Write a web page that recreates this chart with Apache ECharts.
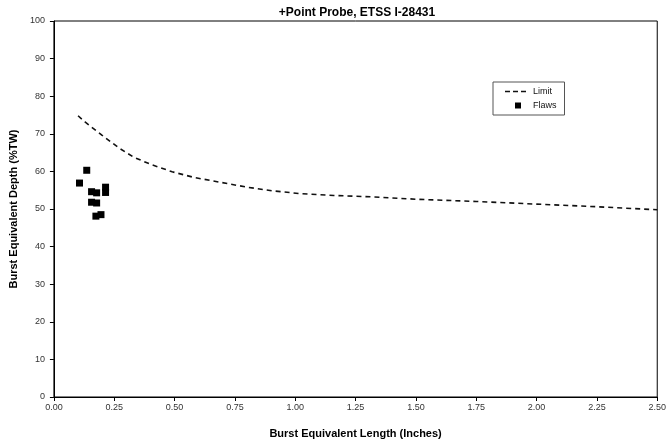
<!DOCTYPE html>
<html>
<head>
<meta charset="utf-8">
<script src="https://cdn.jsdelivr.net/npm/echarts@6/dist/echarts.min.js"></script>
<style>html,body{margin:0;padding:0;background:#fff;}#c{width:669px;height:444px;}</style>
</head>
<body>
<div id="c"></div>
<script>
var titleText = '+Point Probe, ETSS I-28431';
var xTitle = 'Burst Equivalent Length (Inches)';
var yTitle = 'Burst Equivalent Depth (%TW)';
var limitLength = [0.10, 0.13, 0.20, 0.27, 0.33, 0.40, 0.49, 0.58, 0.69, 0.80, 0.91, 1.02, 1.16, 1.33, 1.50, 1.75, 2.00, 2.25, 2.50];
var limitDepth  = [74.8, 73.1, 69.6, 66.2, 63.8, 61.9, 59.9, 58.4, 57.1, 55.8, 54.8, 54.1, 53.6, 53.2, 52.6, 52.0, 51.3, 50.6, 49.8];
var flawsLength = [0.136, 0.106, 0.156, 0.177, 0.214, 0.214, 0.156, 0.177, 0.174, 0.195];
var flawsDepth  = [60.3, 56.9, 54.6, 54.3, 55.8, 54.4, 51.8, 51.6, 48.1, 48.5];

var chart = echarts.init(document.getElementById('c'), null, {renderer: 'canvas'});
var font = 'Liberation Sans, Arial, sans-serif';
chart.setOption({
  animation: false,
  backgroundColor: '#fff',
  title: {
    text: titleText, left: 352, top: 2, textAlign: 'center',
    textStyle: {fontFamily: font, fontSize: 12, fontWeight: 'bold', color: '#000'}
  },
  grid: {left: 52, right: 9, top: 21, bottom: 46, show: true, borderColor: '#000', borderWidth: 1, containLabel: false},
  legend: {
    orient: 'vertical', left: 493, top: 82,
    padding: [5, 8, 5, 12], itemGap: 5, itemWidth: 26, itemHeight: 8,
    borderColor: '#555', borderWidth: 1,
    textStyle: {fontFamily: font, fontSize: 9, color: '#111', padding: [0, 0, 0, -3]},
    data: [
      {name: 'Limit', icon: 'path://M0,0 M26,8 M0,3.3h5v1.4h-5z M8,3.3h5v1.4h-5z M16,3.3h5v1.4h-5z'},
      {name: 'Flaws', icon: 'path://M0,0 M26,8 M10,1h6v6h-6z'}
    ]
  },
  xAxis: {
    type: 'value', min: 0, max: 2.5, interval: 0.25,
    name: xTitle, nameLocation: 'middle', nameGap: 31,
    nameTextStyle: {fontFamily: font, fontSize: 11, fontWeight: 'bold', color: '#000'},
    axisLine: {show: true, lineStyle: {color: '#000', width: 1}},
    axisTick: {show: true, length: 4, lineStyle: {color: '#000'}},
    axisLabel: {fontFamily: font, fontSize: 9, color: '#333', margin: 6, formatter: function (v) { return v.toFixed(2); }},
    splitLine: {show: false}
  },
  yAxis: {
    type: 'value', min: 0, max: 100, interval: 10,
    name: yTitle, nameLocation: 'middle', nameGap: 29,
    nameTextStyle: {fontFamily: font, fontSize: 11, fontWeight: 'bold', color: '#000'},
    axisLine: {show: true, lineStyle: {color: '#000', width: 1}},
    axisTick: {show: true, length: 4, lineStyle: {color: '#000'}},
    axisLabel: {fontFamily: font, fontSize: 9, color: '#333', margin: 9},
    splitLine: {show: false}
  },
  series: [
    {
      name: 'Limit', type: 'line', showSymbol: false, symbol: 'none', smooth: false,
      data: limitLength.map(function (x, i) { return [x, limitDepth[i]]; }),
      lineStyle: {color: '#111', width: 1.6, type: [5, 4]},
      itemStyle: {color: '#111'}
    },
    {
      name: 'Flaws', type: 'scatter', symbol: 'rect', symbolSize: 7,
      data: flawsLength.map(function (x, i) { return [x, flawsDepth[i]]; }),
      itemStyle: {color: '#000', opacity: 1}
    }
  ]
});
</script>
</body>
</html>
